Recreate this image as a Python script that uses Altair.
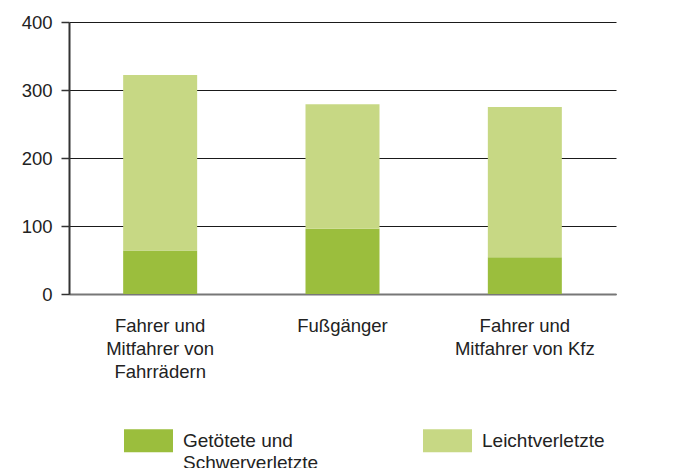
import altair as alt
import pandas as pd

categories = ["Fahrer und|Mitfahrer von|Fahrrädern", "Fußgänger", "Fahrer und|Mitfahrer von Kfz"]
series = ["Getötete und Schwerverletzte", "Leichtverletzte"]
schwer = [64, 96, 54]
leicht = [258, 183, 221]
colors = ["#9BBE3D", "#C7D884"]

rows = []
for i, c in enumerate(categories):
    rows.append({"cat": c, "series": series[0], "value": schwer[i], "ord": 0})
    rows.append({"cat": c, "series": series[1], "value": leicht[i], "ord": 1})
df = pd.DataFrame(rows)

FONT = "Liberation Sans"

chart = alt.Chart(df).mark_bar(size=74).encode(
    x=alt.X("cat:N", sort=categories, title=None,
            scale=alt.Scale(paddingInner=0, paddingOuter=0),
            axis=alt.Axis(labelAngle=0, ticks=False, labelPadding=22,
                          labelExpr="split(datum.label, '|')",
                          labelLineHeight=23, labelBaseline="top",
                          labelFontSize=18.5, labelFont=FONT, labelColor="#222222",
                          domainColor="#777777", domainWidth=2, grid=False)),
    y=alt.Y("value:Q", stack="zero", title=None,
            scale=alt.Scale(domain=[0, 400]),
            axis=alt.Axis(values=[0, 100, 200, 300, 400], tickSize=8, tickColor="#333333",
                          tickWidth=1.5, labelPadding=9, labelFontSize=18.5, labelFont=FONT,
                          labelColor="#222222", domainColor="#333333", domainWidth=2,
                          grid=True, gridColor="#1a1a1a", gridWidth=1.2)),
    color=alt.Color("series:N", sort=series, title=None,
                    scale=alt.Scale(domain=series, range=colors),
                    legend=alt.Legend(orient="none", legendX=55, legendY=394,
                                      direction="horizontal", columns=2, columnPadding=104,
                                      symbolType="M-1,-0.47H1V0.47H-1Z", symbolSize=2401,
                                      symbolStrokeWidth=0, symbolOpacity=1,
                                      labelOffset=10, labelFontSize=19, labelFont=FONT,
                                      labelColor="#222222", labelLimit=300,
                                      labelBaseline="middle",
                                      labelExpr="datum.label == 'Getötete und Schwerverletzte' ? ['Getötete und', 'Schwerverletzte'] : [datum.label, '']")),
    order=alt.Order("ord:Q"),
).properties(
    width=547, height=272,
    autosize=alt.AutoSizeParams(type="none"),
    padding={"left": 61, "top": 14, "right": 63, "bottom": 176},
).configure(
    style={"guide-label": {"lineHeight": 22}},
    view={"stroke": "transparent"},
)

chart.save("out.html", embed_options={"renderer": "svg", "actions": False})
